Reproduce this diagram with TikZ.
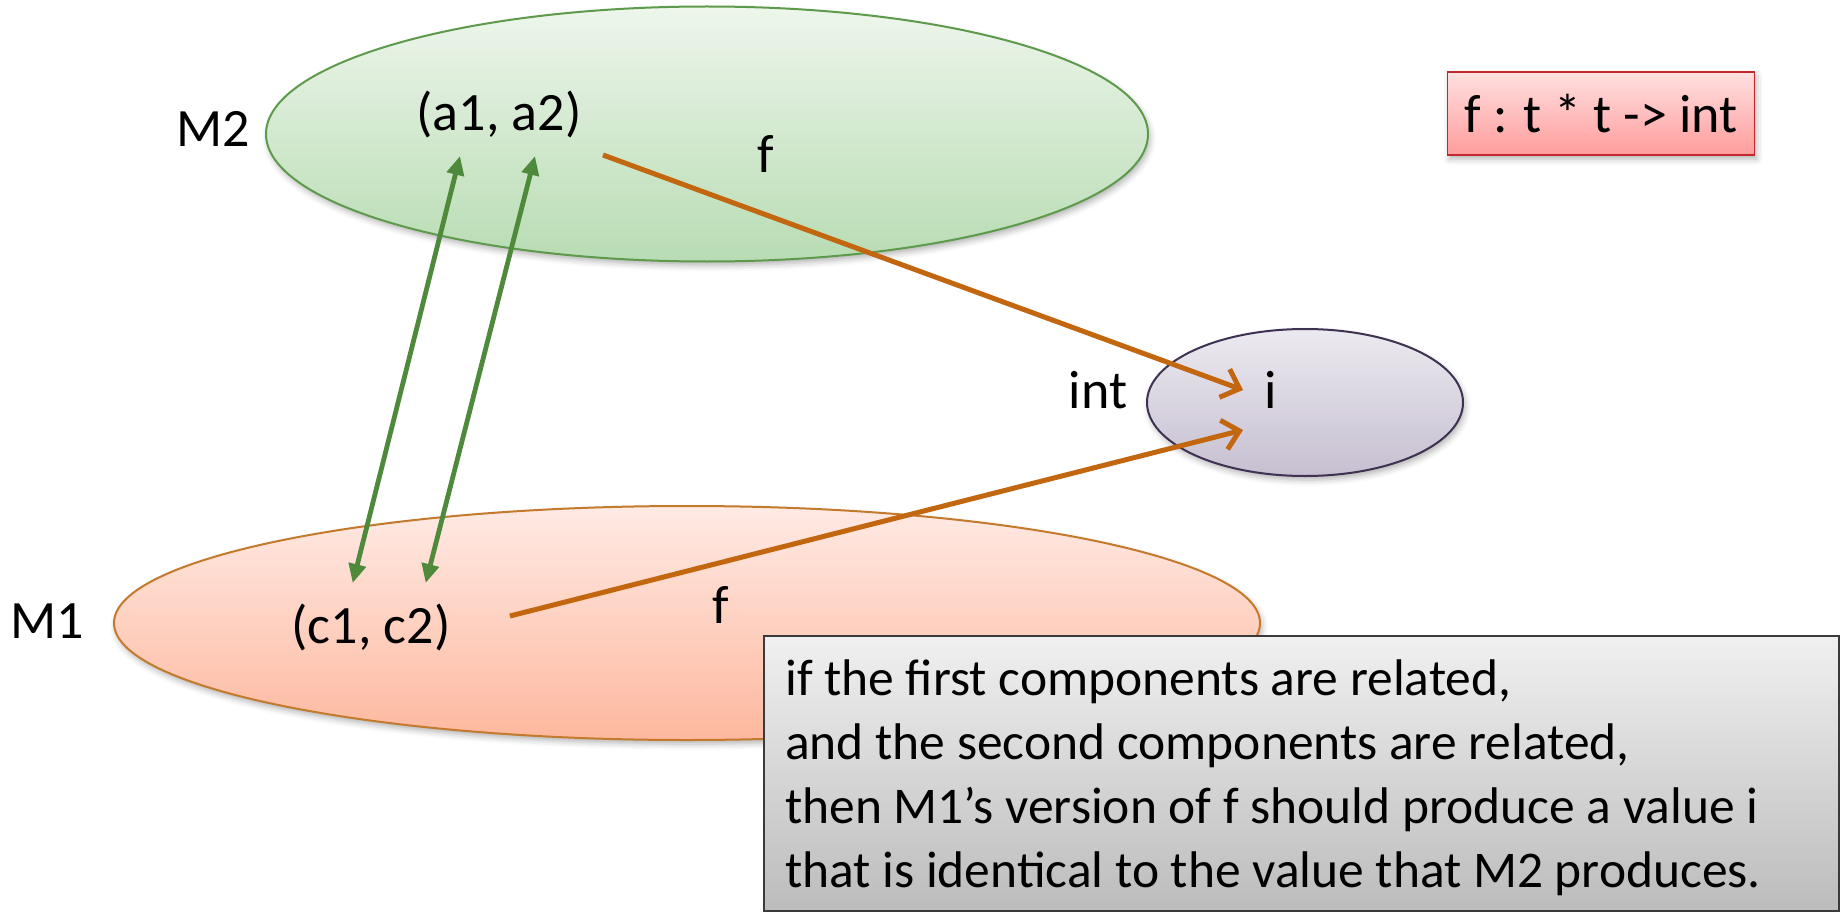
\documentclass[tikz,border=0pt]{standalone}
\usepackage{fontspec}
\setmainfont{Carlito}
\usetikzlibrary{shapes.geometric,arrows.meta,shadows.blur}

% palette
\definecolor{greenTop}{HTML}{EEF6EC}
\definecolor{greenBot}{HTML}{B8DCB3}
\definecolor{greenLine}{HTML}{5E9A4C}
\definecolor{peachTop}{HTML}{FFEAE4}
\definecolor{peachBot}{HTML}{FDB89E}
\definecolor{peachLine}{HTML}{C47A2C}
\definecolor{lilacTop}{HTML}{ECEAF0}
\definecolor{lilacBot}{HTML}{C6BFD0}
\definecolor{lilacLine}{HTML}{3F3151}
\definecolor{roseTop}{HTML}{FFE0E0}
\definecolor{roseBot}{HTML}{FF9C9C}
\definecolor{roseLine}{HTML}{C0282E}
\definecolor{greyTop}{HTML}{F0F0F0}
\definecolor{greyBot}{HTML}{BCBCBC}
\definecolor{greyLine}{HTML}{3A3A3A}
\definecolor{mapArrow}{HTML}{C2660F}
\definecolor{relArrow}{HTML}{4F8A3C}

\tikzset{
  bigfont/.style={font=\fontsize{54}{64}\selectfont},
  notefont/.style={font=\fontsize{51.5}{64}\selectfont},
  softshadow/.style={blur shadow={shadow xshift=2pt, shadow yshift=-4pt,
      shadow blur radius=6pt, shadow opacity=30}},
  setshape/.style={ellipse, inner sep=0pt, line width=2pt, softshadow},
  lbl/.style={bigfont, inner sep=0pt, anchor=base},
  mapsto/.style={draw=mapArrow, line width=5pt,
      -{Straight Barb[length=16pt, width=30pt]}},
  relates/.style={draw=relArrow, line width=4.8pt,
      {Triangle[length=19pt, width=17pt]}-{Triangle[length=19pt, width=17pt]}},
}

\begin{document}
\begin{tikzpicture}[x=1pt, y=-1pt]
\useasboundingbox (0,0) rectangle (1843,912);

% the two models and the result type
\node[setshape, draw=greenLine, top color=greenTop, bottom color=greenBot,
      minimum width=882pt, minimum height=255pt] (M2set) at (707,134) {};
\node[setshape, draw=peachLine, top color=peachTop, bottom color=peachBot,
      minimum width=1146pt, minimum height=234pt] (M1set) at (687,623) {};
\node[setshape, draw=lilacLine, top color=lilacTop, bottom color=lilacBot,
      minimum width=316pt, minimum height=147pt] (intset) at (1305,402.5) {};

% type signature
\node[bigfont, draw=roseLine, line width=1.5pt, top color=roseTop, bottom color=roseBot,
      minimum width=307pt, minimum height=83pt, inner sep=0pt, softshadow]
      (sig) at (1601,113.5) {f : t * t -> int};

% labels
\node[lbl] (M2name) at (213,147) {M2};
\node[lbl] (M1name) at (47,638) {M1};
\node[lbl] (apair) at (499,131) {(a1, a2)};
\node[lbl] (cpair) at (371,643) {(c1, c2)};
\node[lbl] (ftop) at (766,173) {f};
\node[lbl] (fbot) at (720.5,623) {f};
\node[lbl] (intname) at (1098,408) {int};
\node[lbl] (ival) at (1270.7,408) {i};

% arrow end points
\coordinate (aOut) at (603,155);
\coordinate (cOut) at (510,616);
\coordinate (iInTop) at (1243,390);
\coordinate (iInBot) at (1243,430);
\coordinate (aOneTop) at (460,156);
\coordinate (cOneBot) at (352.7,583);
\coordinate (aTwoTop) at (535,156);
\coordinate (cTwoBot) at (425.7,583);

% component relations
\draw[relates] (cOneBot) -- (aOneTop);
\draw[relates] (cTwoBot) -- (aTwoTop);

% f applied in each model
\draw[mapsto] (aOut) -- (iInTop);
\draw[mapsto] (cOut) -- (iInBot);

% explanation box
\node[draw=greyLine, line width=1.5pt, top color=greyTop, bottom color=greyBot,
      anchor=north west, minimum width=1075pt, minimum height=275pt, inner sep=0pt]
      (note) at (763,635) {};
\node[notefont, anchor=north west, inner sep=0pt, align=left]
      (notetext) at (785,650.2) {\strut if the first components are related,\\
      and the second components are related,\\
      then M1’s version of f should produce a value i\\
      that is identical to the value that M2 produces.};
\end{tikzpicture}
\end{document}
